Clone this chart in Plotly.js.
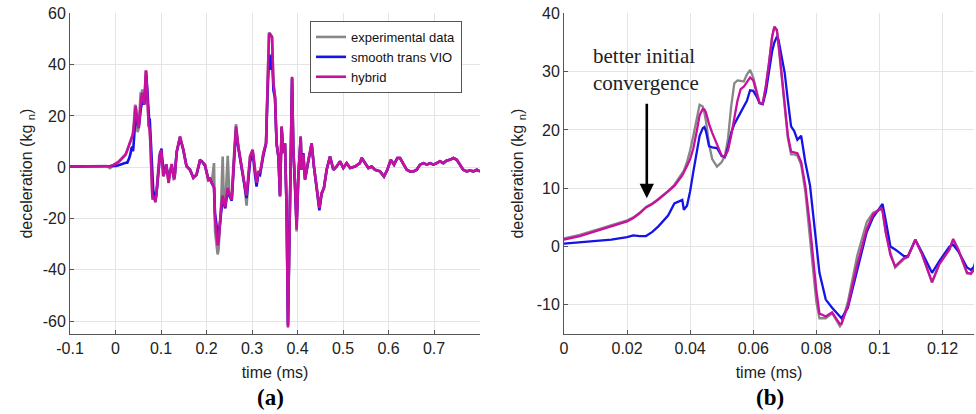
<!DOCTYPE html>
<html>
<head>
<meta charset="utf-8">
<script src="https://cdn.plot.ly/plotly-3.0.1.min.js"></script>
<style>
  html, body { margin: 0; padding: 0; background: #fff; }
  #chart { width: 976px; height: 414px; }
</style>
</head>
<body>
<div id="chart"></div>
<script>
// ---------------- data ----------------
const time = [
  -0.1, -0.08, -0.06, -0.04, -0.02, -0.012, -0.005,
  0, 0.005, 0.01, 0.015, 0.02, 0.022, 0.024, 0.026, 0.028, 0.03,
  0.033, 0.035, 0.0375, 0.038, 0.039, 0.04, 0.041, 0.042, 0.043, 0.044,
  0.0445, 0.045, 0.046, 0.047, 0.0485, 0.05, 0.051, 0.052, 0.053, 0.054,
  0.055, 0.056, 0.057, 0.058, 0.059, 0.06, 0.061, 0.062, 0.063, 0.064,
  0.065, 0.066, 0.0667, 0.0675, 0.068, 0.069, 0.07, 0.071, 0.072, 0.073,
  0.074, 0.0752, 0.0765, 0.078, 0.079, 0.08, 0.081, 0.083, 0.085, 0.0875,
  0.088, 0.09, 0.093, 0.096, 0.098, 0.1005, 0.101, 0.102, 0.1035, 0.105,
  0.1077, 0.109, 0.1114, 0.1135, 0.1167, 0.119, 0.1222, 0.1234, 0.125, 0.1278,
  0.129, 0.13,
  0.1345, 0.1418, 0.149, 0.156, 0.1637, 0.171, 0.178, 0.1857, 0.19, 0.1967,
  0.204, 0.2077, 0.2114, 0.2165, 0.2187, 0.222, 0.2245, 0.2265, 0.229, 0.232,
  0.2355, 0.238, 0.241, 0.2466, 0.25, 0.2554, 0.259, 0.2648, 0.2699, 0.2773,
  0.283, 0.288, 0.2956, 0.3014, 0.3066, 0.31, 0.314, 0.3176, 0.3249, 0.3308,
  0.3337, 0.3374, 0.341, 0.344, 0.347, 0.3505, 0.354, 0.358, 0.3615, 0.363,
  0.365, 0.3688, 0.3725, 0.376, 0.379, 0.382, 0.385, 0.388, 0.3908, 0.3945,
  0.398, 0.4018, 0.407, 0.409, 0.4128, 0.4165, 0.424, 0.431, 0.436, 0.442,
  0.4458, 0.448, 0.453, 0.458, 0.464, 0.4714, 0.4787, 0.486, 0.4934, 0.5007,
  0.508, 0.5154, 0.5264, 0.537, 0.541, 0.548, 0.5557, 0.563, 0.5703, 0.5813,
  0.59, 0.5974, 0.6048, 0.612, 0.6194, 0.6253, 0.6326, 0.64, 0.6473, 0.6546,
  0.662, 0.6692, 0.6766, 0.684, 0.6912, 0.6985, 0.7058, 0.713, 0.7205, 0.728,
  0.735, 0.7425, 0.75, 0.757, 0.764, 0.772, 0.779, 0.7865, 0.794, 0.801
];

const experimentalData = [
  0.3, 0.3, 0.4, 0.4, 0.5, -0.4, 0.8,
  1.4, 2.0, 2.8, 3.6, 4.5, 5.0, 5.8, 6.8, 7.4, 8.2,
  9.5, 10.6, 12.5, 13.0, 14.5, 16.5, 19.0, 22.0, 24.3, 24.0,
  23.0, 21.5, 17.5, 15.0, 13.7, 14.5, 15.5, 18.5, 24.0, 28.0,
  28.5, 28.4, 28.3, 29.5, 30.3, 29.0, 26.5, 24.6, 24.5, 27.5,
  31.5, 36.0, 37.7, 37.0, 34.5, 29.0, 23.5, 18.5, 15.8, 15.8,
  15.6, 14.0, 9.5, 1.5, -4.0, -9.5, -12.3, -12.3, -11.4, -13.7,
  -13.3, -9.5, -1.5, 4.2, 5.8, 6.4, 6.0, 2.5, -1.0, -3.6,
  -2.2, -1.8, 1.2, -1.3, -6.2, -3.0, -0.5, 1.2, -0.5, -4.6,
  -4.5, -3.8,
  6.1, 12.0, 6.8, 0.3, -1.0, -4.2, -2.9, 2.9, 2.3, 1.0,
  -5.5, -4.0, -6.5, 1.6, -25.0, -30.0, -34.0, -32.0, -24.0, -15.0,
  4.2, -13.0, -16.0, 4.5, -10.0, -12.6, 1.0, 16.8, 8.1, -1.0,
  -6.1, -15.0, 4.2, 6.8, -2.3, -6.1, -1.5, -2.3, 5.5, 9.4,
  28.9, 52.5, 51.6, 51.0, 32.8, 27.6, 9.4, 4.2, -11.4, 9.4,
  15.9, 5.5, 9.4, -16.5, -62.0, -29.5, 9.4, 35.0, 6.8, -6.1,
  -25.0, -3.6, 12.0, -1.0, 5.0, -4.9, 2.9, 9.4, 0.3, -8.1,
  -12.0, -15.5, -10.0, -8.1, -1.0, 4.2, -1.0, 0.3, 2.3, -0.3,
  1.6, -0.3, 0.3, 1.6, 3.6, 1.6, -0.3, 0.3, -1.0, -1.6,
  -3.6, -1.0, 2.9, 1.0, 3.6, 3.6, 1.0, -1.0, -1.6, -1.6,
  -1.0, 1.0, 1.6, 1.0, 1.6, 1.0, 1.6, 2.3, 1.6, 2.6,
  2.9, 3.6, 2.9, 1.0, -1.0, -1.6, -1.3, -1.6, -1.0, -1.6
];

const smoothTransVIO = [
  0.3, 0.3, 0.4, 0.4, 0.4, 0.3, 0.4,
  0.5, 0.7, 1.0, 1.2, 1.6, 1.9, 1.8, 1.8, 2.5, 3.5,
  5.3, 7.4, 8.0, 6.3, 7.0, 9.5, 12.8, 16.0, 19.0, 20.3,
  20.5, 19.8, 17.2, 17.0, 16.9, 15.5, 15.3, 17.0, 19.5, 21.0,
  22.0, 23.2, 24.0, 25.0, 26.8, 26.7, 25.8, 24.6, 24.4, 26.5,
  30.0, 33.5, 35.0, 36.0, 35.5, 32.5, 29.7, 25.0, 20.6, 19.8,
  18.3, 19.0, 14.5, 10.5, 6.0, 0.5, -4.5, -9.1, -10.5, -12.0,
  -12.3, -10.5, -4.0, 2.5, 5.0, 6.8, 7.3, 4.5, 0.0, -0.5,
  -1.6, -1.7, 1.1, -1.0, -4.5, -2.5, 0.0, 0.3, -0.8, -3.6,
  -4.0, -3.5,
  6.0, 11.5, 6.8, 0.5, -1.0, -4.0, -3.0, 2.5, 2.3, 0.5,
  -4.5, -4.5, -6.0, -8.0, -18.0, -24.0, -26.0, -27.0, -23.0, -17.0,
  -12.0, -13.5, -16.0, -9.0, -11.0, -13.0, -1.0, 14.5, 7.5, -1.0,
  -6.5, -12.0, 2.0, 6.0, -3.0, -7.5, -2.5, -3.0, 4.5, 9.0,
  26.0, 44.0, 38.0, 44.0, 30.0, 27.0, 9.0, 4.0, -11.0, 9.0,
  15.5, 5.5, 9.0, -16.0, -61.5, -29.0, 9.0, 34.5, 6.8, -6.0,
  -22.5, -3.5, 11.5, -1.0, 5.5, -4.5, 2.9, 9.0, 0.3, -8.5,
  -12.5, -16.8, -10.5, -8.1, -1.0, 4.2, -1.0, 0.3, 2.3, -0.3,
  1.6, -0.3, 0.3, 1.6, 3.6, 1.6, -0.3, 0.3, -1.0, -1.6,
  -3.6, -1.0, 2.9, 1.0, 3.6, 3.6, 1.0, -1.0, -1.6, -1.6,
  -1.0, 1.0, 1.6, 1.0, 1.6, 1.0, 1.6, 2.3, 1.6, 2.6,
  2.9, 3.6, 2.9, 1.0, -1.0, -1.6, -1.3, -1.6, -1.0, -1.6
];

const hybrid = [
  0.3, 0.3, 0.4, 0.4, 0.5, 0.5, 0.9,
  1.2, 1.8, 2.6, 3.4, 4.3, 4.9, 5.7, 6.7, 7.3, 8.1,
  9.4, 10.4, 12.2, 12.7, 13.8, 15.0, 16.8, 19.5, 22.5, 23.6,
  23.5, 23.0, 21.0, 19.5, 17.5, 15.6, 15.4, 16.5, 19.0, 22.0,
  25.0, 27.0, 27.4, 28.2, 29.0, 28.5, 26.5, 24.6, 24.5, 27.5,
  31.5, 36.0, 37.7, 37.2, 35.0, 29.5, 24.0, 19.0, 16.3, 16.2,
  16.0, 14.5, 10.5, 3.5, -2.0, -7.5, -11.5, -12.0, -11.3, -13.3,
  -13.2, -10.2, -3.0, 3.0, 5.5, 6.6, 6.2, 2.5, -1.5, -3.4,
  -2.0, -1.8, 1.2, -1.3, -6.1, -3.0, -0.5, 1.3, -0.5, -4.5,
  -4.7, -4.0,
  6.1, 12.0, 6.8, 0.3, -1.0, -4.2, -2.9, 2.9, 2.3, 1.0,
  -5.0, -4.5, -6.0, -8.0, -20.0, -27.0, -30.5, -29.0, -22.0, -16.0,
  -11.0, -13.0, -15.5, -8.0, -10.5, -12.6, 0.5, 15.9, 8.1, -1.0,
  -6.1, -11.0, 4.2, 6.8, -2.3, -6.1, -1.5, -2.3, 5.5, 9.4,
  28.9, 52.2, 51.6, 50.5, 32.8, 27.6, 9.4, 4.2, -11.4, 9.4,
  15.9, 5.5, 9.4, -16.5, -62.5, -29.5, 9.4, 35.3, 6.8, -6.1,
  -24.3, -3.6, 12.0, -1.0, 5.0, -4.9, 2.9, 9.4, 0.3, -8.1,
  -12.0, -15.9, -10.0, -8.1, -1.0, 4.2, -1.0, 0.3, 2.3, -0.3,
  1.6, -0.3, 0.3, 1.6, 3.6, 1.6, -0.3, 0.3, -1.0, -1.6,
  -3.6, -1.0, 2.9, 1.0, 3.6, 3.6, 1.0, -1.0, -1.6, -1.6,
  -1.0, 1.0, 1.6, 1.0, 1.6, 1.0, 1.6, 2.3, 1.6, 2.6,
  2.9, 3.6, 2.9, 1.0, -1.0, -1.6, -1.3, -1.6, -1.0, -1.6
];

const seriesNames = ['experimental data', 'smooth trans VIO', 'hybrid'];

const xTicksA = [-0.1, 0, 0.1, 0.2, 0.3, 0.4, 0.5, 0.6, 0.7];
const xTickTextA = ['-0.1', '0', '0.1', '0.2', '0.3', '0.4', '0.5', '0.6', '0.7'];
const yTicksA = [-60, -40, -20, 0, 20, 40, 60];
const yTickTextA = ['-60', '-40', '-20', '0', '20', '40', '60'];

const xTicksB = [0, 0.02, 0.04, 0.06, 0.08, 0.1, 0.12];
const xTickTextB = ['0', '0.02', '0.04', '0.06', '0.08', '0.1', '0.12'];
const yTicksB = [-10, 0, 10, 20, 30, 40];
const yTickTextB = ['-10', '0', '10', '20', '30', '40'];

// ---------------- styling ----------------
const W = 976, H = 414;
const colors = ['#878787', '#1414e6', '#c8109e'];
const seriesValues = [experimentalData, smoothTransVIO, hybrid];
const sans = 'Liberation Sans, Arial, sans-serif';
const serif = 'Liberation Serif, Times New Roman, serif';

const traces = [];
seriesValues.forEach((vals, i) => {
  traces.push({
    x: time, y: vals, name: seriesNames[i], type: 'scatter', mode: 'lines',
    xaxis: 'x', yaxis: 'y', showlegend: true,
    line: { color: colors[i], width: 2.6 }
  });
});
seriesValues.forEach((vals, i) => {
  traces.push({
    x: time, y: vals, name: seriesNames[i], type: 'scatter', mode: 'lines',
    xaxis: 'x2', yaxis: 'y2', showlegend: false,
    line: { color: colors[i], width: 2.3 }
  });
});

function axisBase() {
  return {
    showgrid: true, gridcolor: '#e4e4e4', gridwidth: 1,
    zeroline: false, showline: true, linecolor: '#555', linewidth: 1,
    ticks: 'inside', ticklen: 4, tickcolor: '#555', tickwidth: 1,
    tickmode: 'array', automargin: false,
    tickfont: { family: sans, size: 16, color: '#222' }
  };
}

const yDom = [1 - 334 / H, 1 - 13.3 / H];

const layout = {
  width: W, height: H,
  margin: { l: 0, r: 0, t: 0, b: 0, pad: 0 },
  paper_bgcolor: '#fff', plot_bgcolor: '#fff',
  showlegend: true,
  legend: {
    x: 310 / W, y: 1 - 21 / H, xanchor: 'left', yanchor: 'top',
    bgcolor: '#fff', bordercolor: '#555', borderwidth: 1,
    font: { family: sans, size: 13, color: '#111' },
    tracegroupgap: 0
  },
  xaxis: Object.assign(axisBase(), {
    domain: [70 / W, 480 / W], range: [-0.1, 0.801], anchor: 'y',
    tickvals: xTicksA, ticktext: xTickTextA,
    title: { text: 'time (ms)', font: { family: sans, size: 16, color: '#222' }, standoff: 10 }
  }),
  yaxis: Object.assign(axisBase(), {
    domain: yDom, range: [-65, 60], anchor: 'x',
    tickvals: yTicksA, ticktext: yTickTextA,
    title: { text: 'deceleration (kg <sub>n</sub>)', font: { family: sans, size: 16, color: '#222' }, standoff: 6 }
  }),
  xaxis2: Object.assign(axisBase(), {
    domain: [564 / W, 974 / W], range: [0, 0.13], anchor: 'y2',
    tickvals: xTicksB, ticktext: xTickTextB,
    title: { text: 'time (ms)', font: { family: sans, size: 16, color: '#222' }, standoff: 10 }
  }),
  yaxis2: Object.assign(axisBase(), {
    domain: yDom, range: [-15, 40], anchor: 'x2',
    tickvals: yTicksB, ticktext: yTickTextB,
    title: { text: 'deceleration (kg <sub>n</sub>)', font: { family: sans, size: 16, color: '#222' }, standoff: 9 }
  }),
  annotations: [
    { xref: 'paper', yref: 'paper', x: 270 / W, y: 1 - 397 / H, xanchor: 'center', yanchor: 'middle',
      text: '<b>(a)</b>', showarrow: false, font: { family: serif, size: 23, color: '#000' } },
    { xref: 'paper', yref: 'paper', x: 770 / W, y: 1 - 397 / H, xanchor: 'center', yanchor: 'middle',
      text: '<b>(b)</b>', showarrow: false, font: { family: serif, size: 23, color: '#000' } },
    { xref: 'x2', yref: 'y2', x: 0.0086, y: 30.3, xanchor: 'left', yanchor: 'middle', align: 'left',
      text: 'better initial<br>convergence', showarrow: false,
      font: { family: serif, size: 21, color: '#222' } },
    { xref: 'x2', yref: 'y2', x: 0.02625, y: 8.3, ax: 0, ay: -96, text: '',
      showarrow: true, arrowhead: 2, arrowsize: 1.1, arrowwidth: 2.6, arrowcolor: '#000', standoff: 0 }
  ]
};

Plotly.newPlot('chart', traces, layout, { displayModeBar: false, staticPlot: true });
</script>
</body>
</html>
